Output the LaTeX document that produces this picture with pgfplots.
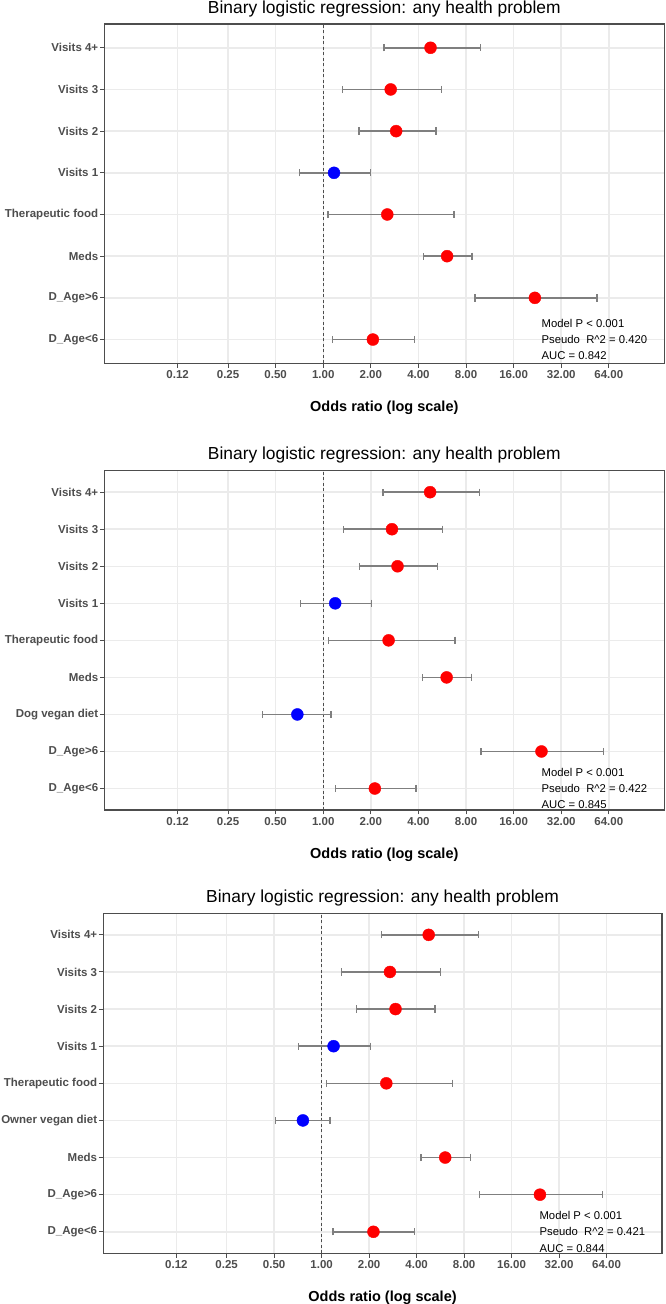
\documentclass[border=0pt]{standalone}
\usepackage{pgfplots}
\pgfplotsset{compat=1.18}
\usepackage{pgfplotstable}
\usepackage{fontspec}
\setmainfont{Liberation Sans}

\definecolor{sigred}{HTML}{FF0000}
\definecolor{nsblue}{HTML}{0000FF}
\definecolor{axtext}{HTML}{4D4D4D}
\definecolor{framec}{HTML}{4D4D4D}
\definecolor{gridc}{HTML}{EBEBEB}
\definecolor{barc}{HTML}{7F7F7F}

% pos = row from the bottom, or = odds ratio, lo/hi = 95% CI, cls = r (significant) / b (not)
\pgfplotstableread{
pos or lo hi cls
8 4.77 2.42 9.83 r
7 2.67 1.32 5.57 r
6 2.89 1.68 5.17 r
5 1.17 0.708 2.00 b
4 2.54 1.07 6.70 r
3 6.07 4.30 8.74 r
2 21.8 9.13 53.8 r
1 2.06 1.15 3.77 r
}\modelA

\pgfplotstableread{
pos or lo hi cls
9 4.74 2.39 9.75 r
8 2.72 1.34 5.67 r
7 2.95 1.69 5.26 r
6 1.19 0.717 2.02 b
5 2.59 1.08 6.82 r
4 6.03 4.24 8.67 r
3 0.686 0.411 1.12 b
2 24.0 9.94 59.5 r
1 2.12 1.19 3.86 r
}\modelB

\pgfplotstableread{
pos or lo hi cls
9 4.77 2.40 9.85 r
8 2.71 1.33 5.64 r
7 2.94 1.67 5.23 r
6 1.19 0.716 2.03 b
5 2.57 1.07 6.75 r
4 0.761 0.509 1.13 b
3 6.07 4.26 8.75 r
2 24.2 10.03 60.5 r
1 2.13 1.18 3.89 r
}\modelC

\tikzset{
  statsnote/.style={anchor=west, align=left, inner sep=0pt,
    font=\fontsize{11.3}{16.2}\selectfont, text=black},
}

\pgfplotsset{
  orplot/.style={
    scale only axis,
    xmin=0.04124, xmax=143.5,
    xtick={0.12,0.25,0.5,1,2,4,8,16,32,64},
    xticklabels={0.12,0.25,0.50,1.00,2.00,4.00,8.00,16.00,32.00,64.00},
    xtick pos=bottom, ytick pos=left,
    tick align=outside,
    major tick length=4.3pt,
    minor tick num=0,
    tick style={framec, line width=1pt},
    axis line style={framec, line width=1.2pt},
    xmajorgrids, ymajorgrids,
    major grid style={gridc, line width=1.5pt},
    xticklabel style={font=\fontsize{11.5}{13}\selectfont\bfseries, text=axtext,
      anchor=center, inner sep=0pt, yshift=-7.2pt},
    yticklabel style={font=\fontsize{11.5}{13}\selectfont\bfseries, text=axtext,
      anchor=east, inner sep=0pt, xshift=-1.6pt},
    title={Binary logistic regression: any health problem},
    title style={at={(0.5,1)}, anchor=center, yshift=9.3pt,
      font=\fontsize{17.4}{20}\selectfont, text=black},
    xlabel={Odds ratio (log scale)},
    xlabel style={at={(0.5,0)}, anchor=center, yshift=-44.5pt,
      font=\fontsize{14.5}{16}\selectfont\bfseries, text=black},
    clip=false,
  },
  cibars/.style={
    only marks, mark=none, forget plot,
    error bars/x dir=both,
    error bars/x explicit,
    error bars/error mark=|,
    error bars/error bar style={draw=barc, line width=1.6pt},
    error bars/error mark options={draw=barc, line width=1.3pt, mark size=3.65pt},
  },
  dots/.style={
    only marks, mark=*, mark size=6pt,
    scatter, point meta=explicit symbolic,
    scatter/classes={
      r={mark=*, draw=sigred, fill=sigred},
      b={mark=*, draw=nsblue, fill=nsblue}},
  },
  nullline/.style={forget plot, draw=framec, line width=0.8pt, dash pattern=on 3pt off 2.5pt},
}

\begin{document}
\begin{tikzpicture}
\path[use as bounding box] (0pt,0pt) rectangle (666pt,-1304pt);

% Model 1
\begin{axis}[xmode=log, orplot,
  at={(104.3pt,-24pt)}, anchor=north west,
  width=560pt, height=339.3pt,
  ymin=0.43, ymax=8.57,
  ytick={1,2,3,4,5,6,7,8},
  yticklabels={D\_Age<6,D\_Age>6,Meds,Therapeutic food,Visits 1,Visits 2,Visits 3,Visits 4+},
]
\addplot[nullline] coordinates {(1,0.43) (1,8.57)};
\addplot[cibars] table[x=or, y=pos,
  x error plus expr=\thisrow{hi}-\thisrow{or},
  x error minus expr=\thisrow{or}-\thisrow{lo}] {\modelA};
\addplot[dots] table[x=or, y=pos, meta=cls] {\modelA};
\node[statsnote] at (axis cs:24,1) {Model P < 0.001\\Pseudo\ \ R\textasciicircum 2 = 0.420\\AUC = 0.842};
\end{axis}

% Model 2: with dog vegan diet
\begin{axis}[xmode=log, orplot,
  at={(104.3pt,-470.7pt)}, anchor=north west,
  width=560pt, height=339.3pt,
  ymin=0.42, ymax=9.58,
  ytick={1,2,3,4,5,6,7,8,9},
  yticklabels={D\_Age<6,D\_Age>6,Dog vegan diet,Meds,Therapeutic food,Visits 1,Visits 2,Visits 3,Visits 4+},
]
\addplot[nullline] coordinates {(1,0.42) (1,9.58)};
\addplot[cibars] table[x=or, y=pos,
  x error plus expr=\thisrow{hi}-\thisrow{or},
  x error minus expr=\thisrow{or}-\thisrow{lo}] {\modelB};
\addplot[dots] table[x=or, y=pos, meta=cls] {\modelB};
\node[statsnote] at (axis cs:24,1) {Model P < 0.001\\Pseudo\ \ R\textasciicircum 2 = 0.422\\AUC = 0.845};
\end{axis}

% Model 3: with owner vegan diet
\begin{axis}[xmode=log, orplot,
  at={(103.2pt,-913.3pt)}, anchor=north west,
  width=558.7pt, height=340pt,
  ymin=0.42, ymax=9.58,
  ytick={1,2,3,4,5,6,7,8,9},
  yticklabels={D\_Age<6,D\_Age>6,Meds,Owner vegan diet,Therapeutic food,Visits 1,Visits 2,Visits 3,Visits 4+},
]
\addplot[nullline] coordinates {(1,0.42) (1,9.58)};
\addplot[cibars] table[x=or, y=pos,
  x error plus expr=\thisrow{hi}-\thisrow{or},
  x error minus expr=\thisrow{or}-\thisrow{lo}] {\modelC};
\addplot[dots] table[x=or, y=pos, meta=cls] {\modelC};
\node[statsnote] at (axis cs:24,1) {Model P < 0.001\\Pseudo\ \ R\textasciicircum 2 = 0.421\\AUC = 0.844};
\end{axis}
\end{tikzpicture}
\end{document}
